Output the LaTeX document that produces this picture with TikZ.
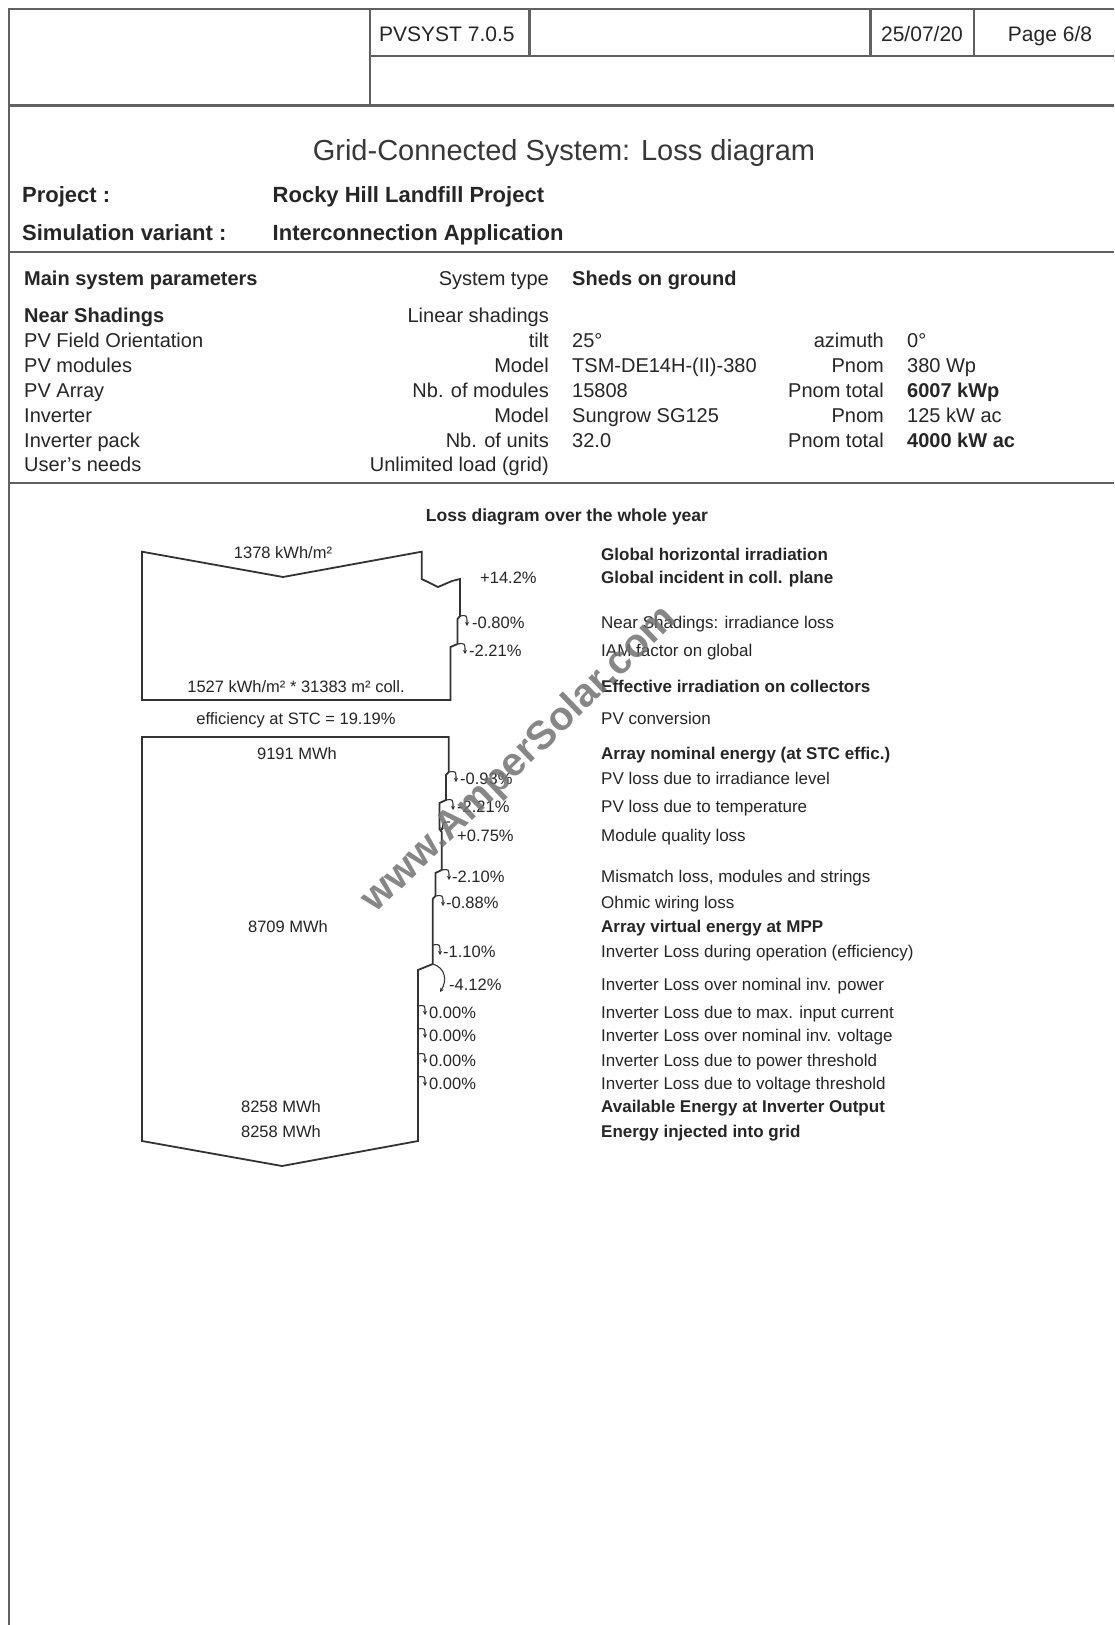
\documentclass[tikz,border=0pt]{standalone}
\usepackage{fontspec}
\setmainfont{Liberation Sans}
\usetikzlibrary{arrows.meta}
\newcommand\myfs[1]{\fontsize{#1}{#1}\selectfont}
\begin{document}
\begin{tikzpicture}[x=1pt,y=-1pt,
  frame/.style={draw=black!62,line width=2.4pt},
  flow/.style={draw=black!80,line width=1.8pt,line join=miter},
  lossarr/.style={draw=black!80,line width=1.1pt,-{Stealth[length=4pt,width=4pt]}},
  tx/.style={inner sep=0pt,text=black!85},
  hdr/.style={tx,font=\myfs{21}},
  par/.style={tx,font=\myfs{20}},
  parb/.style={tx,font=\myfs{20}\bfseries},
  lab/.style={tx,font=\myfs{17}},
  labb/.style={tx,font=\myfs{17}\bfseries},
  dg/.style={tx,font=\myfs{16.5}},
  W/.style={anchor=base west},
  E/.style={anchor=base east},
  C/.style={anchor=base},
]
\path[use as bounding box,fill=white] (0,0) rectangle (1114,1625);

% ---------- page frame and header ----------
\draw[frame] (9,1625) -- (9,9) -- (1114,9);
\draw[frame] (370,9) -- (370,105);
\draw[frame] (370,56) -- (1114,56);
\draw[frame] (529.5,9) -- (529.5,56);
\draw[frame] (870.5,9) -- (870.5,56);
\draw[frame] (974,9) -- (974,56);
\draw[frame,line width=3pt] (9,105) -- (1114,105);
\draw[frame] (9,252) -- (1114,252);
\draw[frame] (9,483) -- (1114,483);

\node[hdr,W] (pv) at (379,41.5) {PVSYST 7.0.5};
\node[hdr,C] (date) at (922,41.5) {25/07/20};
\node[hdr,C] (page) at (1050,41.5) {Page 6/8};

\node[tx,font=\myfs{29},text=black!78,C] (title) at (564,160.5) {Grid-Connected System: Loss diagram};
\node[tx,font=\myfs{22}\bfseries,W] (projk) at (22,202) {Project :};
\node[tx,font=\myfs{22}\bfseries,W] (projv) at (272.5,202) {Rocky Hill Landfill Project};
\node[tx,font=\myfs{22}\bfseries,W] (simk) at (22,240) {Simulation variant :};
\node[tx,font=\myfs{22}\bfseries,W] (simv) at (272.5,240) {Interconnection Application};

% ---------- main system parameters ----------
\node[parb,W] (p1a) at (24,285) {Main system parameters};
\node[par,E]  (p1b) at (549,285) {System type};
\node[parb,W] (p1c) at (572,285) {Sheds on ground};

\node[parb,W] (p2a) at (24,322) {Near Shadings};
\node[par,E]  (p2b) at (549,322) {Linear shadings};

\node[par,W] (p3a) at (24,347) {PV Field Orientation};
\node[par,E] (p3b) at (549,347) {tilt};
\node[par,W] (p3c) at (572,347) {25°};
\node[par,E] (p3d) at (884,347) {azimuth};
\node[par,W] (p3e) at (907,347) {0°};

\node[par,W] (p4a) at (24,372) {PV modules};
\node[par,E] (p4b) at (549,372) {Model};
\node[par,W] (p4c) at (572,372) {TSM-DE14H-(II)-380};
\node[par,E] (p4d) at (884,372) {Pnom};
\node[par,W] (p4e) at (907,372) {380 Wp};

\node[par,W]  (p5a) at (24,397) {PV Array};
\node[par,E]  (p5b) at (549,397) {Nb. of modules};
\node[par,W]  (p5c) at (572,397) {15808};
\node[par,E]  (p5d) at (884,397) {Pnom total};
\node[parb,W] (p5e) at (907,397) {6007 kWp};

\node[par,W] (p6a) at (24,422) {Inverter};
\node[par,E] (p6b) at (549,422) {Model};
\node[par,W] (p6c) at (572,422) {Sungrow SG125};
\node[par,E] (p6d) at (884,422) {Pnom};
\node[par,W] (p6e) at (907,422) {125 kW ac};

\node[par,W]  (p7a) at (24,447) {Inverter pack};
\node[par,E]  (p7b) at (549,447) {Nb. of units};
\node[par,W]  (p7c) at (572,447) {32.0};
\node[par,E]  (p7d) at (884,447) {Pnom total};
\node[parb,W] (p7e) at (907,447) {4000 kW ac};

\node[par,W] (p8a) at (24,471.5) {User's needs};
\node[par,E] (p8b) at (549,471.5) {Unlimited load (grid)};

% ---------- loss diagram ----------
\node[tx,font=\myfs{17.5}\bfseries,C] (ldh) at (567,521) {Loss diagram over the whole year};

% irradiation box
\draw[flow] (142,700) -- (142,551.7) -- (283,577) -- (421.7,551.7) -- (421.7,579)
  -- (438,587) -- (452,581) -- (460,579) -- (460,616) -- (457.5,619) -- (457.5,644)
  -- (450.5,647) -- (450.5,700) -- cycle;
\coordinate (a1) at (460,616);
\coordinate (a2) at (457.5,644);
\draw[lossarr] (a1) .. controls (467,615) .. (467,626);
\draw[lossarr] (a2) .. controls (465,643) .. (465,654);

\node[dg,C] (ghi) at (283,558) {1378 kWh/m²};
\node[dg,C] (eff) at (296,692) {1527 kWh/m² * 31383 m² coll.};
\node[dg,C] (stc) at (296,724) {efficiency at STC = 19.19\%};
\node[dg,W] (g1) at (480,583) {+14.2\%};
\node[dg,W] (g2) at (472,628) {-0.80\%};
\node[dg,W] (g3) at (469,656) {-2.21\%};

% energy box
\draw[flow] (142,1141) -- (142,737) -- (448.7,737) -- (448.7,772) -- (446,775)
  -- (446,800) -- (439.5,803) -- (439.5,829) -- (441.7,832) -- (441.7,870)
  -- (435.4,873) -- (435.4,896) -- (432.8,899) -- (432.8,964) -- (418,970)
  -- (418,1141) -- (282,1166) -- cycle;
\coordinate (b1) at (448.7,772);
\coordinate (b2) at (446,800);
\coordinate (b3) at (441.7,831);
\coordinate (b4) at (441.7,870);
\coordinate (b5) at (435.4,896);
\coordinate (b6) at (432.8,945);
\coordinate (b7) at (432.8,964);
\coordinate (b8) at (418,1006);
\coordinate (b9) at (418,1029);
\coordinate (b10) at (418,1054);
\coordinate (b11) at (418,1077);
\draw[lossarr] (b1) .. controls (456,771) .. (456,782);
\draw[lossarr] (b2) .. controls (453,799) .. (453,810);
\draw[lossarr] (450,822) .. controls (443,822) .. (b3);
\draw[lossarr] (b4) .. controls (449,869) .. (449,880);
\draw[lossarr] (b5) .. controls (443,895) .. (443,906);
\draw[lossarr] (b6) .. controls (440,944) .. (440,955);
\draw[lossarr] (b7) .. controls (446,968) and (447,981) .. (440,992);
\draw[lossarr] (b8) .. controls (425,1005) .. (425,1015);
\draw[lossarr] (b9) .. controls (425,1028) .. (425,1038);
\draw[lossarr] (b10) .. controls (425,1053) .. (425,1063);
\draw[lossarr] (b11) .. controls (425,1076) .. (425,1086);

\node[dg,C] (e1) at (297,759) {9191 MWh};
\node[dg,C] (e2) at (288,932) {8709 MWh};
\node[dg,C] (e3) at (281,1112) {8258 MWh};
\node[dg,C] (e4) at (281,1137) {8258 MWh};

\node[dg,W] (l1) at (460,784.5) {-0.93\%};
\node[dg,W] (l2) at (457,812.3) {-2.21\%};
\node[dg,W] (l3) at (457,841.3) {+0.75\%};
\node[dg,W] (l4) at (452,882) {-2.10\%};
\node[dg,W] (l5) at (446,908) {-0.88\%};
\node[dg,W] (l6) at (443,957.5) {-1.10\%};
\node[dg,W] (l7) at (449,990.5) {-4.12\%};
\node[dg,W] (l8) at (429,1018.5) {0.00\%};
\node[dg,W] (l9) at (429,1041.5) {0.00\%};
\node[dg,W] (l10) at (429,1066) {0.00\%};
\node[dg,W] (l11) at (429,1089) {0.00\%};

% right column labels
\node[labb,W] (r1) at (601,560.5) {Global horizontal irradiation};
\node[labb,W] (r2) at (601,583.3) {Global incident in coll. plane};
\node[lab,W]  (r3) at (601,628) {Near Shadings: irradiance loss};
\node[lab,W]  (r4) at (601,656) {IAM factor on global};
\node[labb,W] (r5) at (601,692) {Effective irradiation on collectors};
\node[lab,W]  (r6) at (601,724) {PV conversion};
\node[labb,W] (r7) at (601,759.5) {Array nominal energy (at STC effic.)};
\node[lab,W]  (r8) at (601,784.5) {PV loss due to irradiance level};
\node[lab,W]  (r9) at (601,812.3) {PV loss due to temperature};
\node[lab,W]  (r10) at (601,841.3) {Module quality loss};
\node[lab,W]  (r11) at (601,882) {Mismatch loss, modules and strings};
\node[lab,W]  (r12) at (601,908) {Ohmic wiring loss};
\node[labb,W] (r13) at (601,932.5) {Array virtual energy at MPP};
\node[lab,W]  (r14) at (601,957.5) {Inverter Loss during operation (efficiency)};
\node[lab,W]  (r15) at (601,990.5) {Inverter Loss over nominal inv. power};
\node[lab,W]  (r16) at (601,1018.5) {Inverter Loss due to max. input current};
\node[lab,W]  (r17) at (601,1041.5) {Inverter Loss over nominal inv. voltage};
\node[lab,W]  (r18) at (601,1066) {Inverter Loss due to power threshold};
\node[lab,W]  (r19) at (601,1089) {Inverter Loss due to voltage threshold};
\node[labb,W] (r20) at (601,1112) {Available Energy at Inverter Output};
\node[labb,W] (r21) at (601,1137) {Energy injected into grid};

% watermark
\node[font=\myfs{40}\bfseries,text=black!55,opacity=0.85,rotate=44,inner sep=0pt] (wm) at (520,760) {www.AmperSolar.com};
\end{tikzpicture}
\end{document}
